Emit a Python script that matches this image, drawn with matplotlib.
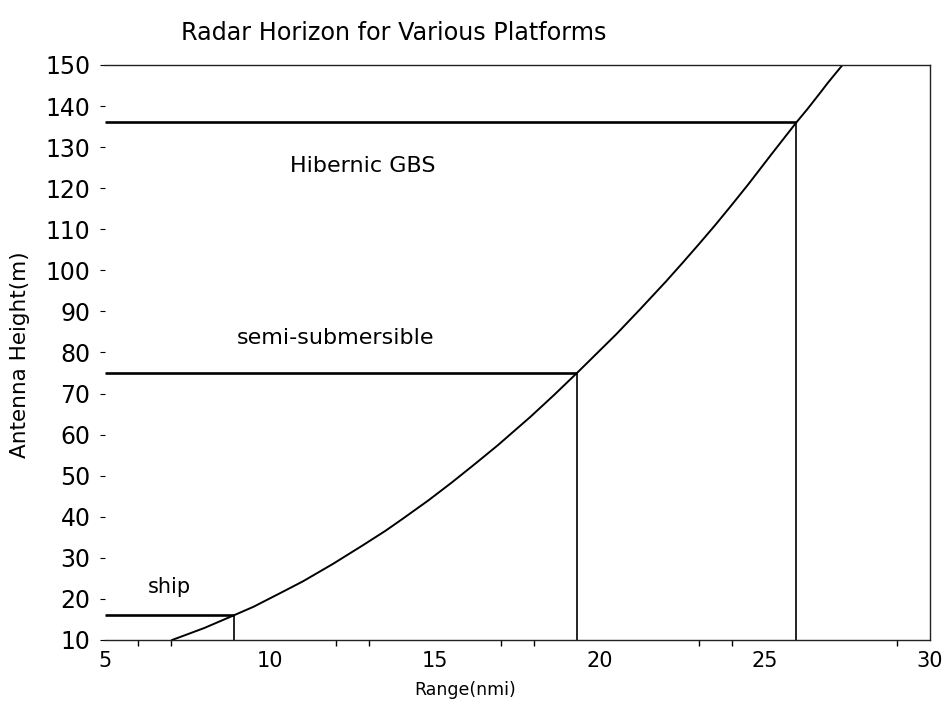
import matplotlib
matplotlib.use("Agg")
import matplotlib.pyplot as plt

# Curve: range (nmi) vs antenna height (m)
curve_range = [7.03, 8.0, 8.9, 9.5, 10.4, 11.0, 11.9, 12.8, 13.5, 14.0, 14.8, 15.5, 16.2, 16.9,
               17.9, 18.6, 19.3, 20.5, 21.2, 22.0, 22.5, 23.0, 23.5, 24.0, 24.5, 25.2, 25.95,
               26.3, 26.7, 26.9, 27.35]
curve_height = [10, 12.9, 16.0, 18.1, 21.8, 24.3, 28.5, 33.0, 36.6, 39.4, 44.0, 48.3, 52.8, 57.4,
                64.4, 69.6, 75.0, 84.5, 90.4, 97.3, 101.8, 106.4, 111.1, 116.0, 121.0, 128.3, 136,
                139.4, 143.5, 145.6, 150]

platforms = ["ship", "semi-submersible", "Hibernic GBS"]
platform_height = [16, 75, 136]
platform_range = [8.9, 19.3, 25.95]

x_ticks = [5, 10, 15, 20, 25, 30]
x_minor = [6, 7, 12, 13, 17, 18, 23, 24, 29]
y_ticks = list(range(10, 151, 10))

fig = plt.figure(figsize=(9.47, 7.10), dpi=100)
ax = fig.add_axes([0.111, 0.0986, 0.871, 0.8099])

ax.plot(curve_range, curve_height, color="black", lw=1.4)

for name, h, r in zip(platforms, platform_height, platform_range):
    ax.plot([5, r], [h, h], color="black", lw=1.9, solid_capstyle="butt")
    ax.plot([r, r], [10, h], color="black", lw=1.2, solid_capstyle="butt")

# labels
label_pos = {"ship": (6.3, 23), "semi-submersible": (9.0, 83.5), "Hibernic GBS": (10.6, 125.5)}
label_size = {"ship": 15, "semi-submersible": 16, "Hibernic GBS": 16}
for name in platforms:
    x, y = label_pos[name]
    ax.text(x, y, name, fontsize=label_size[name], va="center", ha="left")

ax.set_xlim(5, 30)
ax.set_ylim(10, 150)
ax.set_xticks(x_ticks)
ax.set_xticks(x_minor, minor=True)
ax.set_yticks(y_ticks)
ax.tick_params(axis="x", which="major", length=0, pad=8, labelsize=15)
ax.tick_params(axis="x", which="minor", length=4.5, width=1, direction="out")
ax.tick_params(axis="y", which="major", length=3.5, width=0.8, direction="out", pad=7, labelsize=17)

ax.spines["left"].set_visible(False)
for s in ["top", "right", "bottom"]:
    ax.spines[s].set_linewidth(1.0)
    ax.spines[s].set_color("#222222")

fig.text(0.416, 0.953, "Radar Horizon for Various Platforms", fontsize=17.2, ha="center", va="center")
fig.text(0.491, 0.028, "Range(nmi)", fontsize=12.5, ha="center", va="center")
fig.text(0.021, 0.50, "Antenna Height(m)", fontsize=15.5, ha="center", va="center", rotation=90)

fig.savefig("out.png", dpi=100)
